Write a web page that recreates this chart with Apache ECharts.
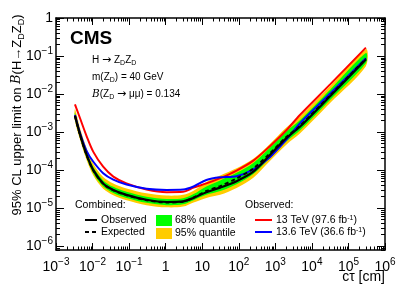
<!DOCTYPE html>
<html><head><meta charset="utf-8">
<script src="https://cdn.jsdelivr.net/npm/echarts@6/dist/echarts.min.js"></script>
<style>html,body{margin:0;padding:0;background:#fff}#c{width:402px;height:289px}</style>
</head><body><div id="c"></div>
<script>
// ---- data (cτ in cm, limits on branching fraction) ----
const ctau = [0.0033, 0.0046, 0.0069, 0.0105, 0.0195, 0.037, 0.085, 0.30, 1.07, 3.0, 5.8, 13, 31, 87, 250, 710, 2000, 4700, 32000, 300000];
const expected = [2.63e-3, 8.13e-4, 2.45e-4, 9.77e-5, 4.37e-5, 2.95e-5, 2.19e-5, 1.62e-5, 1.41e-5, 1.48e-5, 1.91e-5, 2.82e-5, 3.80e-5, 6.03e-5, 1.10e-4, 2.75e-4, 7.41e-4, 1.45e-3, 9.33e-3, 8.51e-2];
const band68lo = [2.24e-3, 6.92e-4, 2.09e-4, 8.32e-5, 3.72e-5, 2.51e-5, 1.86e-5, 1.38e-5, 1.20e-5, 1.26e-5, 1.62e-5, 2.24e-5, 2.82e-5, 4.27e-5, 7.94e-5, 2.09e-4, 5.62e-4, 1.10e-3, 7.08e-3, 6.46e-2];
const band68hi = [3.24e-3, 1.00e-3, 3.02e-4, 1.20e-4, 5.37e-5, 3.63e-5, 2.69e-5, 2.00e-5, 1.74e-5, 1.82e-5, 2.34e-5, 3.72e-5, 5.37e-5, 8.51e-5, 1.55e-4, 3.89e-4, 1.05e-3, 2.04e-3, 1.32e-2, 1.20e-1];
const band95lo = [1.95e-3, 6.03e-4, 1.82e-4, 7.24e-5, 3.24e-5, 2.19e-5, 1.62e-5, 1.20e-5, 1.05e-5, 1.10e-5, 1.41e-5, 1.86e-5, 2.24e-5, 3.39e-5, 6.31e-5, 1.74e-4, 4.68e-4, 9.12e-4, 5.89e-3, 5.37e-2];
const band95hi = [3.98e-3, 1.23e-3, 3.72e-4, 1.48e-4, 6.61e-5, 4.47e-5, 3.31e-5, 2.45e-5, 2.14e-5, 2.24e-5, 2.88e-5, 4.90e-5, 7.24e-5, 1.12e-4, 2.00e-4, 4.90e-4, 1.32e-3, 2.57e-3, 1.66e-2, 1.51e-1];
const observed = [2.69e-3, 8.32e-4, 2.51e-4, 1.00e-4, 4.47e-5, 3.02e-5, 2.24e-5, 1.66e-5, 1.45e-5, 1.51e-5, 1.86e-5, 2.63e-5, 3.47e-5, 5.13e-5, 9.12e-5, 2.51e-4, 6.92e-4, 1.38e-3, 8.91e-3, 8.13e-2];
const obs13 = [5.37e-3, 2.24e-3, 7.76e-4, 3.02e-4, 1.23e-4, 6.76e-5, 4.47e-5, 3.09e-5, 2.63e-5, 2.69e-5, 3.47e-5, 4.47e-5, 6.17e-5, 9.77e-5, 1.78e-4, 4.27e-4, 1.12e-3, 2.82e-3, 1.82e-2, 1.66e-1];
const obs136 = [2.82e-3, 9.12e-4, 3.16e-4, 1.66e-4, 8.32e-5, 5.62e-5, 4.17e-5, 3.24e-5, 3.02e-5, 3.09e-5, 3.72e-5, 5.50e-5, 6.46e-5, 6.92e-5, 1.05e-4, 2.19e-4, 6.31e-4, 1.70e-3, 1.05e-2, 8.71e-2];

// ---- tick labels (decade exponents) ----
const xTickExps = [-3, -2, -1, 0, 1, 2, 3, 4, 5, 6];
const yTickExps = [-6, -5, -4, -3, -2, -1, 0];

const X_MIN = 1e-3, X_MAX = 1e6, Y_MIN = 7.94e-7, Y_MAX = 1;
const FONT = 'Liberation Sans, Arial, Helvetica, sans-serif';

function majors(lo, hi, exps) {
  return exps.map(e => {
    let v = Math.pow(10, e);
    if (v <= lo * 1.0000001) v = lo * 1.000001;
    if (v >= hi * 0.9999999) v = hi * 0.999999;
    return v;
  });
}
function minors(lo, hi, e0, e1) {
  const out = [];
  for (let e = e0; e <= e1; e++) for (let m = 2; m <= 9; m++) {
    const v = m * Math.pow(10, e);
    if (v > lo && v < hi) out.push(v);
  }
  return out;
}
const xMaj = majors(X_MIN, X_MAX, xTickExps), xMin = minors(X_MIN, X_MAX, -3, 5);
const yMaj = majors(Y_MIN, Y_MAX, yTickExps), yMin = minors(Y_MIN, Y_MAX, -7, -1);

function fmt(v) {
  const e = Math.round(Math.log10(v));
  if (e === 0) return '{b|1}';
  if (e === 1) return '{b|10}';
  return '{b|10}{s|' + (e < 0 ? '\u2212' + (-e) : e) + '}';
}
const labelRich = {
  b: { fontSize: 14, lineHeight: 20, fontFamily: FONT, color: '#000' },
  s: { fontSize: 10, lineHeight: 12, fontFamily: FONT, color: '#000', verticalAlign: 'top' }
};

function axis(kind, pos, major, showLabel) {
  const isX = kind === 'x';
  return {
    type: 'log', logBase: 10, position: pos, z: 10,
    min: isX ? X_MIN : Y_MIN, max: isX ? X_MAX : Y_MAX,
    axisLine: { show: major, onZero: false, lineStyle: { color: '#000', width: 1.5 } },
    axisTick: { show: true, inside: true, length: major ? (isX ? 7 : 8) : (isX ? 3.5 : 4),
      customValues: major ? (isX ? xMaj : yMaj) : (isX ? xMin : yMin),
      lineStyle: { color: '#000', width: 1 } },
    axisLabel: { show: showLabel, customValues: isX ? xMaj : yMaj, formatter: fmt, rich: labelRich,
      margin: isX ? 7 : 3, color: '#000' },
    splitLine: { show: false }, minorTick: { show: false }, minorSplitLine: { show: false },
    axisPointer: { show: false }
  };
}

const pts = arr => ctau.map((x, i) => [x, arr[i]]);
const SM = 0.3;
// quantile band: one filled polygon between lower and upper edges, placed through the axes
function band(name, lo, hi, color) {
  return {
    name, type: 'custom', silent: true, z: 1, clip: true,
    data: ctau.map((x, i) => [x, lo[i], hi[i]]),
    encode: { x: 0, y: [1, 2] },
    renderItem: function (params, api) {
      if (params.dataIndex !== 0) return null;
      const up = [], dn = [];
      for (let i = 0; i < ctau.length; i++) {
        up.push(api.coord([ctau[i], hi[i]]));
        dn.push(api.coord([ctau[i], lo[i]]));
      }
      return { type: 'polygon', shape: { points: up.concat(dn.reverse()), smooth: SM },
        style: { fill: color, stroke: null } };
    }
  };
}
function curve(name, arr, color, width, type) {
  return { name, type: 'line', data: pts(arr), symbol: 'none', smooth: SM, z: 3,
    lineStyle: { color, width, type: type || 'solid' } };
}

const T = (x, y, text, extra) => Object.assign({ type: 'text', x, y, z: 100,
  style: Object.assign({ text, fontFamily: FONT, fontSize: 10.5, fill: '#000', align: 'left', verticalAlign: 'middle' }, extra || {}) });
const subRich = { d: { fontSize: 7, fontFamily: FONT, verticalAlign: 'bottom', lineHeight: 14 },
                  a: { fontSize: 11, fontFamily: 'DejaVu Sans' },
                  i: { fontSize: 10.5, fontFamily: 'DejaVu Serif', fontStyle: 'italic' } };
const supRich = { s: { fontSize: 7, fontFamily: FONT, verticalAlign: 'top', lineHeight: 9 } };

const option = {
  animation: false,
  backgroundColor: '#fff',
  grid: { left: 56, right: 17, top: 18, bottom: 39, containLabel: false, outerBoundsMode: 'none' },
  xAxis: [axis('x', 'bottom', true, true), axis('x', 'bottom', false, false), axis('x', 'top', true, false), axis('x', 'top', false, false)],
  yAxis: [axis('y', 'left', true, true), axis('y', 'left', false, false), axis('y', 'right', true, false), axis('y', 'right', false, false)],
  series: [
    band('95% quantile', band95lo, band95hi, '#ffcc00'),
    band('68% quantile', band68lo, band68hi, '#00ff00'),
    curve('13 TeV', obs13, '#ff0000', 2),
    curve('13.6 TeV', obs136, '#0000ff', 2),
    curve('Expected', expected, '#000', 2, [4, 3]),
    curve('Observed', observed, '#000', 2.2)
  ],
  graphic: [
    T(70, 39, 'CMS', { fontWeight: 'bold', fontSize: 19 }),
    T(92, 60, 'H {a|\u2192} Z{d|D}Z{d|D}', { fontSize: 10, rich: subRich }),
    T(92, 77, 'm(Z{d|D}) = 40 GeV', { fontSize: 10, rich: subRich }),
    T(92, 94, '{i|B}(Z{d|D} {a|\u2192} \u03bc\u03bc) = 0.134', { fontSize: 10, rich: subRich }),
    // y-axis title
    Object.assign(T(17, 115, '95% CL upper limit on {i|B}(H\u2192Z{d|D}Z{d|D})', { fontSize: 13, align: 'center',
      rich: { i: { fontSize: 13, fontFamily: 'DejaVu Serif', fontStyle: 'italic' }, d: { fontSize: 9, fontFamily: FONT, verticalAlign: 'bottom', lineHeight: 18 } } }),
      { rotation: Math.PI / 2 }),
    // x-axis title
    T(385, 277, 'c\u03c4 [cm]', { fontSize: 14, align: 'right' }),
    // legend
    T(75, 205, 'Combined:'),
    { type: 'line', z: 100, shape: { x1: 85, y1: 220, x2: 97, y2: 220 }, style: { stroke: '#000', lineWidth: 2 } },
    T(101, 220, 'Observed'),
    { type: 'line', z: 100, shape: { x1: 85, y1: 232, x2: 97, y2: 232 }, style: { stroke: '#000', lineWidth: 2, lineDash: [4, 3] } },
    T(101, 232, 'Expected'),
    { type: 'rect', z: 100, shape: { x: 156, y: 215, width: 16, height: 11 }, style: { fill: '#00ff00' } },
    T(175, 220, '68% quantile'),
    { type: 'rect', z: 100, shape: { x: 156, y: 228, width: 16, height: 11 }, style: { fill: '#ffcc00' } },
    T(175, 233, '95% quantile'),
    T(245, 205, 'Observed:'),
    { type: 'line', z: 100, shape: { x1: 255, y1: 220, x2: 272, y2: 220 }, style: { stroke: '#ff0000', lineWidth: 2 } },
    T(276, 220, '13 TeV (97.6 fb{s|-1})', { rich: supRich }),
    { type: 'line', z: 100, shape: { x1: 255, y1: 232, x2: 272, y2: 232 }, style: { stroke: '#0000ff', lineWidth: 2 } },
    T(276, 232, '13.6 TeV (36.6 fb{s|-1})', { rich: supRich })
  ]
};
const chart = echarts.init(document.getElementById('c'), null, { renderer: 'canvas', width: 402, height: 289 });
chart.setOption(option);
</script>
</body></html>
